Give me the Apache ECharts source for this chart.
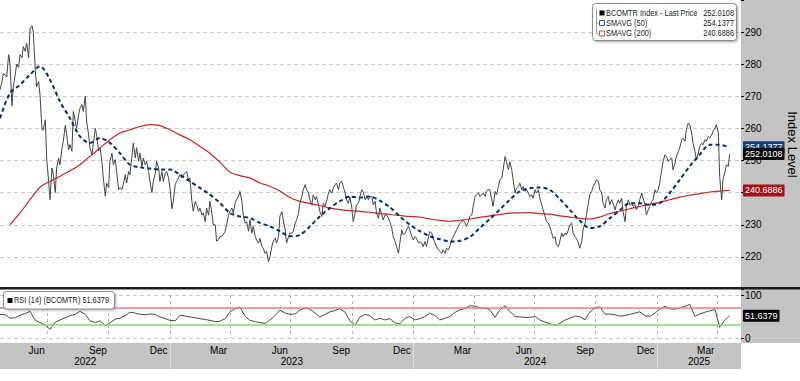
<!DOCTYPE html>
<html><head><meta charset="utf-8">
<script src="https://cdn.jsdelivr.net/npm/echarts@6/dist/echarts.min.js"></script>
<style>html,body{margin:0;padding:0;background:#fff}#c{width:800px;height:381px}</style>
</head><body><div id="c"></div>
<script>
// ---------------- DATA ----------------
const startDate = [2022, 3, 21];        // 2022-04-21 (first day on the x axis)
const dayCount = 1113;                  // through 2025-05-08
const priceStepDays = 2.5;
const priceValues = [
272,274.5,277,276.7,276,283,280,267,273,277,
280,279,283,282,285.5,284,286.6,282,291,292,
290,278,273,274.6,270.5,259.6,259.6,262.7,250.8,243.5,
237.8,247.7,245.6,240,247.7,250.8,248.7,253.9,256,261,
258,253.4,255,252.9,265.3,262.2,260,264.3,266.3,267.4,
265.3,270,262.2,258,253.9,251.8,255,260,258,253,
254,249.8,244.6,238.9,243,241.5,249.8,252.3,248.7,250.3,
246.6,241,241.5,241,242.5,245.6,243,246.6,245.6,251.3,
255.5,250.8,254,249.8,252.3,248,250.8,248.7,249.8,246.6,
243.5,240,243.5,246,249.8,247.7,243.5,246.6,243.5,246,
246.6,244.6,241.5,235,237.3,242.5,243.5,244.6,245.6,244.6,
245.6,246,246.6,244,244.6,237.3,234.2,237.3,236.3,234.2,
235.2,233,233.7,231,235.2,233,237.3,233.7,230,230,
224.9,225.4,226.4,226.4,227,228,230,233,234.2,235.2,
233.7,236.8,237.8,238.9,240.4,237.3,233,230.5,231,228,
231.5,227.4,229.5,226.3,225.3,224.3,225.8,223.2,222.7,221.1,
221.7,218.5,220,223.2,224.8,225.8,224.3,226.3,232.6,234.1,
231.5,228.4,224.3,226.3,227.4,227.4,227.9,230.5,231.5,233.6,
236.7,238.8,240.9,242.5,240.9,239.9,237.8,236.2,239.3,237.8,
238.8,236.2,234.1,232.6,236.7,235.7,237.3,239.9,240.9,239.9,
241.4,242.5,243,240.9,243,243.5,241.9,239.9,237.8,236.7,
238.8,235.2,231,233.6,236.2,236.7,238.8,240.9,240.4,237.8,
238.8,237.8,238.8,238.8,236.2,237.3,233.6,232,235.2,233.1,
231.5,233.1,233.1,232,231,228.9,226.3,224.8,223.2,221.1,
224.3,228.4,226.9,227.4,228.4,229.5,228.4,226.3,225.3,226.3,
225.8,224.3,224.8,224.3,223.2,224.8,223.2,226.3,227.9,227.4,
225.8,224.3,223.2,222.2,221.7,221.1,222.2,221.1,222.7,222.2,
223.2,225.3,226.3,227.4,228.4,229.5,230.5,231,231.5,230.5,
229.5,231,232.6,233.1,235.7,238.8,239.3,239.9,238.8,239.3,
239.9,238.8,240.4,240.9,241,237.8,235.7,240.4,239.3,241.9,
244,244.5,247.1,251.3,249.7,247.1,249.7,247.1,244,239.9,
241.4,241.9,243,240.9,241.9,240.4,240.9,239.9,238.8,239.3,
238.3,240.9,239.9,240.9,238.3,236.2,234.7,232.6,231,230.5,
229.5,227.4,225.8,226.3,223.7,223.2,224.8,227.4,226.3,227.4,
226.9,228.4,230,230.5,227.4,226.3,225.8,224.3,222.7,224.8,
228.4,230.5,233.1,236.7,239.3,240.4,241.9,243,244,243.5,
240.9,239.9,236.7,235.2,237.8,238.8,236.2,237.8,236.7,234.7,
236.2,237.8,236.7,238.3,234.1,231,235.7,237.8,236.2,236.7,
235.7,236.2,234.7,235.7,237.8,239.9,238.3,236.2,233.1,234.7,
235.7,237.3,237.8,240.9,239.9,240.9,243,247.1,249.7,251.8,
251.3,249.7,250.3,250.8,247.1,249.2,251.3,252.8,253.9,256.5,
257,256,259.6,261.7,261.2,258.6,255.4,252.8,250.3,252.3,
254.4,255.4,254.9,256.5,256,257.5,257,258,259.1,260.1,
261.2,258.6,245,237.8,244,246.6,248.7,248.2,252.0108
];
const smaStepDays = 15;
const sma50Values = [
263.2,271,273.6,276.7,279.4,275.2,268.4,263.2,257.5,255.5,
257,255.5,252.3,248.7,247.9,247.5,247.2,247.2,245.6,243.5,
241.5,239.4,236.8,233.7,232.6,232.1,230.6,229.5,228,226.4,
226.8,229.5,232.6,235.2,237.3,238.8,238.5,238.8,237.5,235.5,
232.6,230,228,226.4,225.5,224.8,225,226.2,229,231.8,
234.7,237.8,240.4,241.4,241.6,240.9,238,234.7,231.3,229,
229.5,232,234.5,236.7,236.7,236.2,236.7,239.9,244,248.2,
251.8,254.9,254.9,254.1377
];
const sma200Values = [
null,230,233.7,237.8,241.7,243.5,245.1,246.8,248.7,251.3,
253.9,256.5,258.6,259.6,260.6,261.2,260.9,259.6,258,256.5,
254.4,252.3,249.5,246.4,245.3,244.6,243,242,240.5,238.5,
237.3,236.6,236,235.2,234.7,234.4,234.2,233.9,233.5,233.2,
232.9,232.6,232.4,231.8,231.4,231.1,231.4,231.8,232.3,232.8,
233.2,233.6,233.7,233.8,233.5,233.3,232.8,232.4,232,231.8,
232.4,233.5,234.2,235,235.7,236.4,237,237.8,238.6,239.2,
239.7,240.2,240.5,240.6886
];
const rsiStepDays = 7.5;
const rsiValues = [
55,54,46,47,53,57,62,41,36,30,
20,37,42,47,52,55,62,55,40,36,
40,29,35,44,46,52,60,58,55,54,
56,55,49,45,41,40,53,51,49,47,
45,43,41,38,39,45,61,68,72,50,
41,38,36,34,42,52,65,58,55,56,
65,70,67,58,49,55,61,64,68,60,
40,30,49,55,52,42,46,42,45,35,
33,46,50,42,45,50,58,52,42,46,
50,60,65,69,75,74,70,69,66,48,
65,75,62,50,49,48,48,50,42,37,
33,29,34,42,46,51,50,42,60,71,
72,55,56,54,51,52,55,58,61,52,
50,58,67,74,68,67,70,74,78,50,
56,60,63,66,25,42,51.6379
];
const priceTicks = [220,230,240,250,260,270,280,290];
const rsiLevels = [30, 70];
const monthNames = ['Jan','Feb','Mar','Apr','May','Jun','Jul','Aug','Sep','Oct','Nov','Dec'];
const labelMonths = [2,5,8,11];   // Mar Jun Sep Dec labels (mid-month)
const quarterMonths = [0,3,6,9];  // grid lines at quarter starts
const seriesNames = ['BCOMTR Index - Last Price','SMAVG (50)','SMAVG (200)'];
const rsiName = 'RSI (14) (BCOMTR)';

// ---------------- BUILD ----------------
const categories = [];
for (let i = 0; i < dayCount; i++) {
  const d = new Date(Date.UTC(startDate[0], startDate[1], startDate[2] + i));
  categories.push(d.toISOString().slice(0,10));
}
const mo = c => +c.slice(5,7) - 1, dy = c => +c.slice(8,10);
const monthLabelSet = new Set(), quarterSet = new Set(), yearStarts = [];
categories.forEach((c,i) => {
  if (dy(c) === 15 && labelMonths.includes(mo(c))) monthLabelSet.add(i);
  if (dy(c) === 1 && quarterMonths.includes(mo(c))) quarterSet.add(i);
  if (dy(c) === 1 && mo(c) === 0) yearStarts.push(i);
});
const yearStartSet = new Set(yearStarts);
const bounds = [0, ...yearStarts, dayCount - 1];
const yearLabelSet = new Set();
for (let b = 0; b < bounds.length - 1; b++) yearLabelSet.add(Math.round((bounds[b] + bounds[b+1]) / 2));

const toPairs = (vals, step) => vals.map((v,k) => v == null ? null : [Math.round(k*step), v]).filter(p => p);
const priceData = toPairs(priceValues, priceStepDays);
const sma50Data = toPairs(sma50Values, smaStepDays);
const sma200Data = toPairs(sma200Values, smaStepDays);
const rsiData = toPairs(rsiValues, rsiStepDays);
const lastPrice = priceValues[priceValues.length-1];
const lastS50 = sma50Values[sma50Values.length-1];
const lastS200 = sma200Values[sma200Values.length-1];
const lastRsi = rsiValues[rsiValues.length-1];

const FONT = '"Liberation Sans", Arial, sans-serif';
const tag = (val, bg, z, xi, yi, data) => ({
  type:'line', xAxisIndex:xi, yAxisIndex:yi, data: data, showSymbol:false, silent:true, z:z,
  lineStyle:{opacity:0}, emphasis:{disabled:true}, clip:false,
  markLine:{silent:true, symbol:['none','none'], animation:false,
    lineStyle:{color:'rgba(0,0,0,0)', width:0, opacity:1},
    data:[{yAxis: val}],
    label:{show:true, position:'end', distance:2, formatter: () => val.toFixed(4), opacity:1,
      color:'#fff', backgroundColor:bg, padding:[2,2,1,2], fontSize:9, fontFamily:FONT, borderRadius:1}}
});

const chart = echarts.init(document.getElementById('c'), null, {renderer:'svg', width:800, height:381});
const txt = (x, y, text, align, size) => ({type:'text', x:x, y:y, scaleX:0.82, z:101,
  style:{text:text, fontSize:size||9, fontFamily:FONT, fill:'#1a1a1a', textAlign:align||'left', align:align||'left', textVerticalAlign:'middle', verticalAlign:'middle'}});

chart.setOption({
  animation:false,
  grid:[{left:0, right:59, top:0, height:289, containLabel:false, outerBoundsMode:'none'},
        {left:0, right:59, top:295, height:43, containLabel:false, outerBoundsMode:'none'}],
  xAxis:[
    {type:'category', gridIndex:0, data:categories, boundaryGap:false, show:false},
    {type:'category', gridIndex:1, data:categories, boundaryGap:false,
      axisLine:{show:false}, axisTick:{show:false},
      axisLabel:{interval:(i)=>monthLabelSet.has(i), formatter:(v)=>monthNames[mo(v)], color:'#000', fontSize:10, fontFamily:FONT, margin:7},
      splitLine:{show:true, interval:(i)=>quarterSet.has(i), lineStyle:{color:'#b5b5b5', type:[3,3], width:1}}},
    {type:'category', gridIndex:1, data:categories, boundaryGap:false, position:'bottom', offset:5,
      axisLine:{show:false},
      axisTick:{show:true, interval:(i)=>yearStartSet.has(i), length:26, lineStyle:{color:'#dedede', width:1}},
      axisLabel:{interval:(i)=>yearLabelSet.has(i), formatter:(v)=>v.slice(0,4), color:'#000', fontSize:10, fontFamily:FONT, margin:13},
      splitLine:{show:false}}
  ],
  yAxis:[
    {type:'value', gridIndex:0, position:'right', min:210, max:300, interval:10,
      axisLine:{show:false}, axisTick:{show:true, length:3, lineStyle:{color:'#000'}},
      axisLabel:{formatter:(v)=>priceTicks.includes(v)?String(v):'', color:'#000', fontSize:10, fontFamily:FONT, margin:4, hideOverlap:false},
      splitLine:{show:true, showMinLine:false, showMaxLine:false, lineStyle:{color:'#c8c8c8', type:[4,3], width:1}},
      name:'Index Level', nameLocation:'middle', nameRotate:-90, nameGap:45, nameMoveOverlap:false,
      nameTextStyle:{fontSize:13, color:'#000', fontFamily:FONT}},
    {type:'value', gridIndex:1, position:'right', min:0, max:100, interval:100,
      axisLine:{show:false}, axisTick:{show:true, length:3, lineStyle:{color:'#000'}},
      axisLabel:{color:'#000', fontSize:10, fontFamily:FONT, margin:4},
      splitLine:{show:true, lineStyle:{color:'#c8c8c8', type:[4,3], width:1}}}
  ],
  series:[
    {name:seriesNames[0], type:'line', xAxisIndex:0, yAxisIndex:0, data:priceData, showSymbol:false, z:2,
      lineStyle:{color:'#454545', width:1}, emphasis:{disabled:true}},
    {name:seriesNames[2], type:'line', xAxisIndex:0, yAxisIndex:0, data:sma200Data, showSymbol:false, smooth:0.3, z:3,
      lineStyle:{color:'#c4262b', width:1.2}, emphasis:{disabled:true}},
    {name:seriesNames[1], type:'line', xAxisIndex:0, yAxisIndex:0, data:sma50Data, showSymbol:false, smooth:0.3, z:4,
      lineStyle:{color:'#0d2d5c', width:2, type:[4,3]}, emphasis:{disabled:true}},
    {name:rsiName, type:'line', xAxisIndex:1, yAxisIndex:1, data:rsiData, showSymbol:false, z:3,
      lineStyle:{color:'#4a4a4a', width:1}, emphasis:{disabled:true},
      markLine:{silent:true, symbol:['none','none'], animation:false, label:{show:false},
        data:[{yAxis:rsiLevels[1], lineStyle:{color:'#ec7c7c', type:'solid', width:1.5}},
              {yAxis:rsiLevels[0], lineStyle:{color:'#78dc78', type:'solid', width:1.5}}]}},
    tag(lastS200, '#a50f15', 10, 0, 0, sma200Data),
    tag(lastS50, '#173e73', 11, 0, 0, sma50Data),
    tag(lastPrice, '#0a0a0a', 12, 0, 0, priceData),
    tag(lastRsi, '#0a0a0a', 12, 1, 1, rsiData)
  ],
  graphic:[
    {type:'rect', z:-10, silent:true, shape:{x:741, y:0, width:59, height:343}, style:{fill:'#c4c4c4'}},
    {type:'rect', z:-10, silent:true, shape:{x:0, y:343, width:741, height:26}, style:{fill:'#c4c4c4'}},
    {type:'rect', z:50, silent:true, shape:{x:0, y:287, width:800, height:2.5}, style:{fill:'#1c1c1c'}},
    // main legend box
    {type:'rect', z:100, silent:true, shape:{x:592.5, y:3.5, width:144, height:37, r:3},
      style:{fill:'#fff', stroke:'#8c8c8c', lineWidth:1, shadowBlur:2, shadowOffsetX:1, shadowOffsetY:1, shadowColor:'rgba(0,0,0,0.35)'}},
    {type:'polyline', z:101, silent:true, shape:{points:[[596.5,9],[596.5,33.5],[599,33.5]]}, style:{stroke:'#9a9a9a', lineWidth:1, fill:null}},
    {type:'polyline', z:101, silent:true, shape:{points:[[596.5,23],[599,23]]}, style:{stroke:'#9a9a9a', lineWidth:1, fill:null}},
    {type:'rect', z:101, silent:true, shape:{x:599.5, y:10.5, width:5, height:5}, style:{fill:'#000'}},
    {type:'rect', z:101, silent:true, shape:{x:599.5, y:20.5, width:5, height:5}, style:{fill:'#fff', stroke:'#2c5aa0', lineWidth:1}},
    {type:'rect', z:101, silent:true, shape:{x:599.5, y:31, width:5, height:5}, style:{fill:'#fff', stroke:'#d05050', lineWidth:1}},
    txt(606, 13, seriesNames[0]), txt(734, 13, lastPrice.toFixed(4), 'right'),
    txt(606, 23, seriesNames[1]), txt(734, 23, lastS50.toFixed(4), 'right'),
    txt(606, 33.5, seriesNames[2]), txt(734, 33.5, lastS200.toFixed(4), 'right'),
    // RSI legend box
    {type:'rect', z:100, silent:true, shape:{x:3.5, y:291.5, width:111, height:17.5, r:3},
      style:{fill:'#fff', stroke:'#8c8c8c', lineWidth:1, shadowBlur:2, shadowOffsetX:1, shadowOffsetY:1, shadowColor:'rgba(0,0,0,0.35)'}},
    {type:'rect', z:101, silent:true, shape:{x:7.5, y:298, width:5, height:5}, style:{fill:'#000'}},
    txt(14, 300.5, rsiName + ' ' + lastRsi.toFixed(4))
  ]
});
</script></body></html>
